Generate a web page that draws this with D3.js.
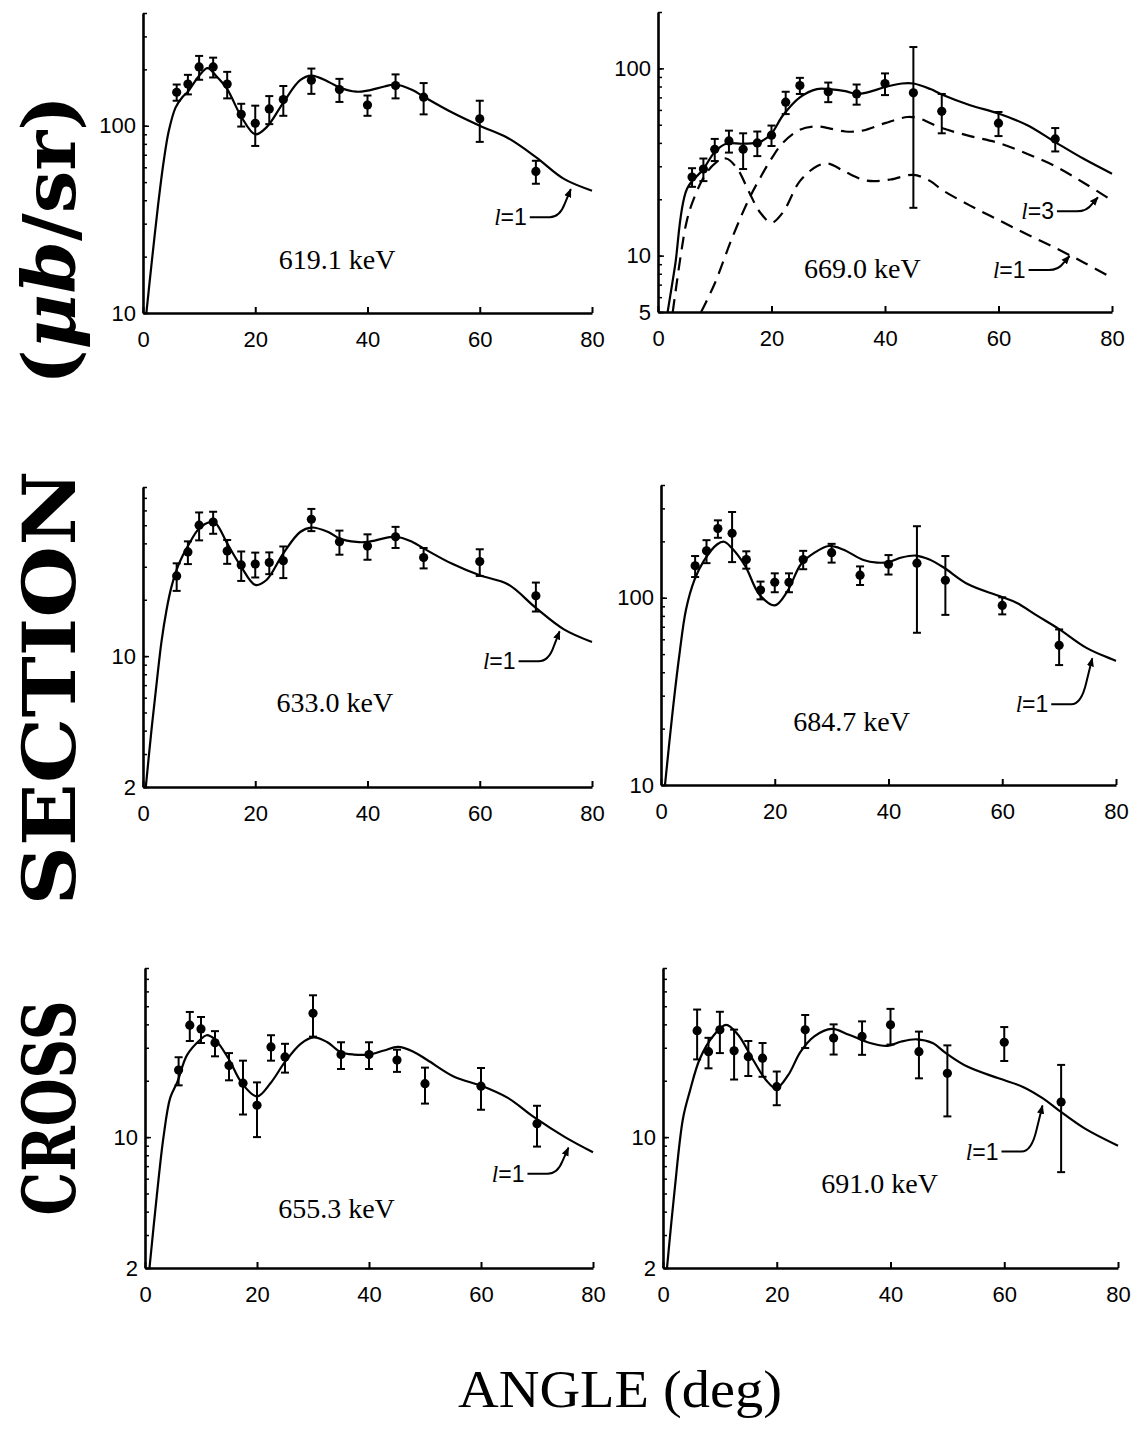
<!DOCTYPE html>
<html>
<head>
<meta charset="utf-8">
<script src="https://cdn.jsdelivr.net/npm/d3@7"></script>
<style>
  body { margin: 0; background: #fff; }
  .tick text { font-family: "Liberation Sans", Arial, sans-serif; font-size: 22px; fill: #000; }
</style>
</head>
<body>
<svg id="chart" width="1145" height="1441"></svg>
<script>
// measured angles (deg)
let angles = [6, 8, 10, 12.5, 15, 17.5, 20, 22.5, 25, 30, 35, 40, 45, 50, 60, 70];
let angles691 = [6, 8, 10, 12.5, 15, 17.5, 20, 25, 30, 35, 40, 45, 50, 60, 70];

// cross sections (ub/sr) and errors
let val619 = [151, 167, 206, 206, 167, 115, 103, 123, 138, 175, 156, 129, 164, 142, 109, 57];
let err619 = [15, 20, 30, 25, 27, 16, 25, 21, 25, 27, 22, 16, 24, 27, 27, 8];
let val669 = [26.3, 29, 37, 41, 37, 40, 44, 66, 81, 75, 73, 83, 74, 59, 51, 42];
let err669 = [3, 4, 5, 5.5, 8, 6, 5.5, 9, 8, 9, 9, 11, 56, 14, 7.5, 6];
let val633 = [26.8, 36, 50, 52, 36.4, 30.7, 31, 31.6, 32.3, 53.8, 40.8, 38.7, 43.4, 33.6, 32, 21];
let err633 = [4.5, 5, 8.5, 7, 5.3, 5.5, 4.7, 4.2, 6.2, 7.3, 6, 6, 5.6, 4.2, 5.2, 3.7];
let val684 = [148, 178, 234, 221, 160, 110, 121, 121, 160, 174, 132, 151, 153, 124, 91, 55.7];
let err684 = [19, 25, 25, 66, 17, 12, 14, 14, 18, 20, 15, 18, 88, 43, 9.5, 12];
let val655 = [22.8, 39.6, 37.8, 31.9, 24.1, 19.4, 14.8, 30.3, 26.8, 45.8, 27.6, 27.6, 25.8, 19.3, 18.7, 11.8];
let err655 = [3.9, 7, 6, 4.9, 4, 6.2, 4.8, 4.7, 4.7, 11.4, 4.5, 4.5, 3.5, 4.2, 4.7, 2.9];
let val691 = [37, 28.6, 37.4, 28.9, 26.9, 26.4, 18.6, 37.4, 33.8, 34.5, 39.8, 28.6, 21.9, 32.1, 15.4];
let err691 = [11, 5.3, 9.3, 8.6, 5.7, 5.4, 3.8, 7.5, 6.2, 7, 8.6, 8, 9, 6.6, 8.9];

// calculated curves
let fitAng619 = [0.6, 1.5, 2.7, 3.7, 4.6, 5.8, 7, 8, 10, 11.5, 13, 15, 17.5, 20, 22, 25, 28, 30, 33, 35, 38, 40, 43, 45, 48, 50, 55, 60, 65, 70, 75, 80];
let fitVal619 = [10, 18, 38, 65, 94, 125, 142, 152, 185, 203, 185, 157, 112, 90, 98, 133, 175, 185, 172, 160, 152, 154, 162, 166, 155, 143, 118, 100, 86, 68, 52, 45];

let fitAng669 = [1.7, 3, 5.1, 8, 10, 12, 15, 18, 20, 22, 25, 28, 30, 33, 35, 38, 40, 43, 45, 48, 50, 55, 60, 65, 70, 75, 80];
let fitVal669 = [5, 8.8, 22.7, 29, 35.8, 39.6, 39.6, 40.5, 44.9, 56, 70, 77.5, 77.5, 75.6, 73, 76, 79.5, 83, 83, 77.5, 72.6, 63.6, 57.4, 49.8, 40.4, 32.9, 27.4];
let l3Ang669 = [7.6, 10, 13, 16, 18, 20, 22, 25, 28, 30, 33, 36, 40, 44, 46, 50, 55, 60, 65, 70, 75, 80];
let l3Val669 = [5, 7.1, 12.3, 20, 26, 33, 40, 47, 49, 48, 46, 46.5, 51, 55, 54, 48, 43.5, 40, 35, 30, 24.5, 19.7];
let l1Ang669 = [2.6, 4, 5, 6, 8, 10, 12, 14, 16, 18, 20, 22, 25, 28, 30, 33, 36, 38, 41, 45, 48, 50, 55, 60, 65, 70, 75, 80];
let l1Val669 = [5, 10, 15, 19, 26, 31, 33, 29, 22, 17, 15, 17, 25, 30, 31, 28, 25.5, 25, 25.5, 27, 25, 22.5, 18.5, 15.5, 13, 11, 9.2, 7.6];

let fitAng633 = [0.5, 1.5, 2.5, 3.3, 4.2, 5, 6, 7, 8, 10, 12, 13, 15, 17.5, 20, 22, 25, 28, 30, 33, 35, 38, 40, 45, 48, 50, 55, 60, 65, 70, 75, 80];
let fitVal633 = [2, 4, 7.5, 12, 17.7, 23, 29, 34, 38.7, 48, 52, 51, 40, 30, 24, 25.5, 35.4, 46, 48.6, 46, 42.5, 40.7, 40.7, 43.4, 40.7, 37.6, 31.2, 27, 24.2, 18.1, 13.9, 11.9];

let fitAng684 = [0.7, 2, 3.2, 4.4, 5.9, 7.5, 9.9, 11.1, 12.4, 14.8, 17.3, 20, 22.2, 24.6, 27, 29.5, 32, 35.6, 38, 40, 42.3, 44.8, 47.2, 49.7, 54, 59.5, 62.5, 66.2, 70, 74.8, 80];
let fitVal684 = [10, 24, 48.7, 86.6, 125, 157, 193, 199, 185, 148, 104, 91, 108, 151, 174, 189, 181, 159, 154, 155, 164, 168, 160, 145, 118, 102, 94, 80, 68, 54, 46];

let fitAng655 = [0.8, 2.1, 3.3, 4.5, 5.8, 7.5, 9.9, 11, 12.5, 14.9, 17.3, 20, 22.4, 25, 27.8, 30.1, 32.5, 34.9, 37.3, 40, 42.7, 45.2, 48, 50.4, 55.2, 60.3, 64.8, 69.6, 75, 80];
let fitVal655 = [2, 4.84, 10, 16.2, 19.8, 27.4, 33.2, 35, 33.2, 26.3, 19.4, 16.5, 19.4, 25.2, 31.5, 34.1, 32.2, 28.5, 27.6, 27.6, 29, 30.3, 28.5, 25.8, 21, 18.7, 16.2, 12.7, 10, 8.3];

let fitAng691 = [0.7, 2, 3.5, 4.7, 6.5, 9, 11.1, 13.2, 15.7, 18.1, 19.9, 22, 24.2, 26.6, 29.7, 32.7, 36.4, 39.5, 41.9, 44.6, 47.4, 49.8, 53.5, 59, 63.2, 66.8, 69.6, 74.2, 80];
let fitVal691 = [2, 5.06, 12.5, 17.5, 26.3, 35.2, 39.8, 35.2, 26.3, 20.2, 18.2, 21.4, 28.6, 34.5, 37.8, 35.2, 31.8, 30.7, 32.4, 33.3, 31.8, 28, 23.8, 20.6, 18.6, 16.1, 13.9, 11.1, 9];

// axis ticks
let xTicks = [0, 20, 40, 60, 80];
let energies = ['619.1 keV', '669.0 keV', '633.0 keV', '684.7 keV', '655.3 keV', '691.0 keV'];

const H = 300;
let panels = [
  { left: 143, bottom: 313, width: 449, yDom: [10, 400], yLabels: [10, 100],
    ang: angles, val: val619, err: err619,
    curves: [{ a: fitAng619, v: fitVal619 }],
    title: energies[0], tAt: [34.6, 19.4],
    notes: [{ txt: '1', a: 76.4, v: 47, dy: 30 }] },
  { left: 658, bottom: 312, width: 454, yDom: [5, 200], yLabels: [5, 10, 100],
    ang: angles, val: val669, err: err669,
    curves: [{ a: fitAng669, v: fitVal669 }, { a: l3Ang669, v: l3Val669, dash: true }, { a: l1Ang669, v: l1Val669, dash: true }],
    title: energies[1], tAt: [36, 8.6],
    notes: [{ txt: '3', a: 77.7, v: 21, dy: 16 }, { txt: '1', a: 72.7, v: 10.2, dy: 16 }] },
  { left: 143, bottom: 787, width: 449, yDom: [2, 80], yLabels: [2, 10],
    ang: angles, val: val633, err: err633,
    curves: [{ a: fitAng633, v: fitVal633 }],
    title: energies[2], tAt: [34.2, 5.7],
    notes: [{ txt: '1', a: 74.4, v: 13.9, dy: 32 }] },
  { left: 661, bottom: 785, width: 455, yDom: [10, 400], yLabels: [10, 100],
    ang: angles, val: val684, err: err684,
    curves: [{ a: fitAng684, v: fitVal684 }],
    title: energies[3], tAt: [33.5, 21.9],
    notes: [{ txt: '1', a: 76, v: 48.7, dy: 48 }] },
  { left: 145, bottom: 1268, width: 448, yDom: [2, 80], yLabels: [2, 10],
    ang: angles, val: val655, err: err655,
    curves: [{ a: fitAng655, v: fitVal655 }],
    title: energies[4], tAt: [34.2, 4.16],
    notes: [{ txt: '1', a: 75.8, v: 9, dy: 28 }] },
  { left: 663, bottom: 1268, width: 455, yDom: [2, 80], yLabels: [2, 10],
    ang: angles691, val: val691, err: err691,
    curves: [{ a: fitAng691, v: fitVal691 }],
    title: energies[5], tAt: [38.1, 5.69],
    notes: [{ txt: '1', a: 66.9, v: 15.1, dy: 48 }] }
];

let svg = d3.select('#chart');

svg.append('defs').append('marker')
  .attr('id', 'arrow')
  .attr('viewBox', '0 0 10 10')
  .attr('refX', 9).attr('refY', 5)
  .attr('markerWidth', 9).attr('markerHeight', 9)
  .attr('markerUnits', 'userSpaceOnUse')
  .attr('orient', 'auto')
  .append('path')
  .attr('d', 'M0,1 L10,5 L0,9 Z')
  .attr('fill', '#000');

panels.forEach(function(p, pi) {
  let g = svg.append('g').attr('transform', `translate(${p.left},${p.bottom - H})`);
  let x = d3.scaleLinear().domain([0, 80]).range([0, p.width]);
  let y = d3.scaleLog().domain(p.yDom).range([H, 0]);

  let clipId = 'clip' + pi;
  g.append('clipPath').attr('id', clipId)
    .append('rect').attr('x', 0).attr('y', -2).attr('width', p.width + 4).attr('height', H + 2);

  let line = d3.line()
    .x(d => x(d[0]))
    .y(d => y(d[1]))
    .curve(d3.curveCatmullRom.alpha(0.5));

  p.curves.forEach(function(c) {
    g.append('path')
      .datum(c.a.map((a, i) => [a, c.v[i]]))
      .attr('d', line)
      .attr('clip-path', `url(#${clipId})`)
      .attr('fill', 'none')
      .attr('stroke', '#000')
      .attr('stroke-width', 2.2)
      .attr('stroke-dasharray', c.dash ? '13,8' : null);
  });

  // error bars
  let pts = p.ang.map((a, i) => ({ a: a, v: p.val[i], e: p.err[i] }));
  let lo = d => y(Math.max(d.v - d.e, p.yDom[0] * 1.02));
  let eb = g.selectAll('.eb').data(pts).enter().append('g')
    .attr('stroke', '#000').attr('stroke-width', 2);
  eb.append('line')
    .attr('x1', d => x(d.a)).attr('x2', d => x(d.a))
    .attr('y1', d => y(d.v + d.e)).attr('y2', lo);
  eb.append('line')
    .attr('x1', d => x(d.a) - 4).attr('x2', d => x(d.a) + 4)
    .attr('y1', d => y(d.v + d.e)).attr('y2', d => y(d.v + d.e));
  eb.append('line')
    .attr('x1', d => x(d.a) - 4).attr('x2', d => x(d.a) + 4)
    .attr('y1', lo).attr('y2', lo);

  g.selectAll('.dot').data(pts).enter().append('circle')
    .attr('cx', d => x(d.a)).attr('cy', d => y(d.v))
    .attr('r', 4.6).attr('fill', '#000');

  // minor y ticks
  let minor = [];
  for (let dec = 1; dec <= 1000; dec *= 10) {
    for (let k = 1; k <= 9; k++) {
      let t = k * dec;
      if (t >= p.yDom[0] && t <= p.yDom[1]) minor.push(t);
    }
  }
  g.append('g')
    .call(d3.axisLeft(y).tickValues(minor).tickSize(-4).tickSizeOuter(0).tickFormat(''))
    .call(s => s.select('.domain').remove())
    .selectAll('line').attr('stroke-width', 1.5);

  let yAxis = g.append('g')
    .call(d3.axisLeft(y).tickValues(p.yLabels).tickSize(-6).tickSizeOuter(0).tickPadding(7).tickFormat(d3.format('d')));
  yAxis.select('.domain').attr('stroke-width', 2.6);
  yAxis.selectAll('line').attr('stroke-width', 1.5);

  let xAxis = g.append('g').attr('transform', `translate(0,${H})`)
    .call(d3.axisBottom(x).tickValues(xTicks).tickSize(-6).tickSizeOuter(0).tickPadding(18));
  xAxis.select('.domain').attr('stroke-width', 2.6);
  xAxis.selectAll('line').attr('stroke-width', 2);
  xAxis.selectAll('text').attr('dy', '0.71em');

  // energy label
  g.append('text')
    .attr('x', x(p.tAt[0])).attr('y', y(p.tAt[1]))
    .attr('dy', '0.35em')
    .attr('text-anchor', 'middle')
    .style('font-family', '"Liberation Serif", "Times New Roman", serif')
    .style('font-size', '28px')
    .text(p.title);

  // l = n annotations
  p.notes.forEach(function(n) {
    let tx = x(n.a), ty = y(n.v);
    g.append('path')
      .attr('d', `M${tx - 42},${ty + n.dy} L${tx - 22},${ty + n.dy} Q${tx - 12},${ty + n.dy} ${tx - 7},${ty + n.dy * 0.55} L${tx - 1},${ty + 2}`)
      .attr('fill', 'none')
      .attr('stroke', '#000')
      .attr('stroke-width', 2)
      .attr('marker-end', 'url(#arrow)');
    let t = g.append('text')
      .attr('x', tx - 45).attr('y', ty + n.dy + 8)
      .attr('text-anchor', 'end')
      .style('font-family', '"Liberation Sans", Arial, sans-serif')
      .style('font-size', '23px');
    t.append('tspan').style('font-family', '"Liberation Serif", serif').style('font-style', 'italic').text('l');
    t.append('tspan').text('=' + n.txt);
  });
});

// axis titles
let yTitle = [
  { txt: 'CROSS', c: 1108, len: 215 },
  { txt: 'SECTION', c: 688, len: 435 },
  { txt: '(μb/sr)', c: 240, len: 290 }
];
yTitle.forEach(function(w) {
  let t = svg.append('text')
    .attr('transform', `translate(75,${w.c}) rotate(-90)`)
    .attr('text-anchor', 'middle')
    .attr('textLength', w.len)
    .attr('lengthAdjust', 'spacingAndGlyphs')
    .style('font-family', '"DejaVu Serif", serif')
    .style('font-weight', 'bold')
    .style('font-size', '72px');
  if (w.txt.indexOf('μb') >= 0) {
    t.append('tspan').text('(');
    t.append('tspan').style('font-style', 'italic').text('μb');
    t.append('tspan').text('/sr)');
  } else {
    t.text(w.txt);
  }
});

svg.append('text')
  .attr('x', 620).attr('y', 1407)
  .attr('text-anchor', 'middle')
  .attr('textLength', 324)
  .attr('lengthAdjust', 'spacingAndGlyphs')
  .style('font-family', '"Liberation Serif", "Times New Roman", serif')
  .style('font-size', '53px')
  .text('ANGLE (deg)');
</script>
</body>
</html>
